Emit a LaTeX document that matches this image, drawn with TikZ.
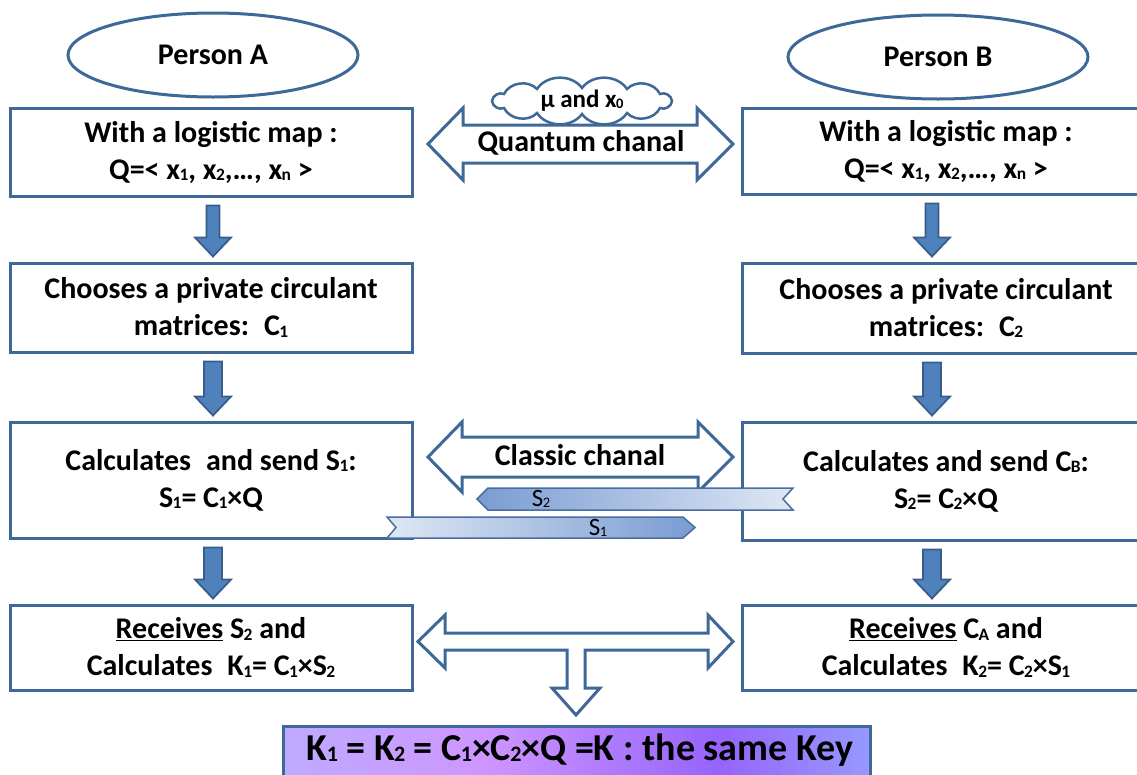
\documentclass[tikz,border=0pt]{standalone}
\usepackage{fontspec}
\setmainfont{Carlito}
\usetikzlibrary{calc,shapes.geometric}

\definecolor{edgeblue}{RGB}{62,104,152}
\definecolor{arrowfill}{RGB}{79,129,189}
\definecolor{arrowedge}{RGB}{56,93,138}
\definecolor{ribbondark}{RGB}{122,156,210}
\definecolor{ribbonlight}{RGB}{222,231,244}
\definecolor{ribbonedge}{RGB}{74,108,158}
\definecolor{kA}{RGB}{200,205,250}
\definecolor{kB}{RGB}{150,200,255}
\definecolor{kC}{RGB}{190,170,255}
\definecolor{kD}{RGB}{205,150,255}
\definecolor{kE}{RGB}{150,100,250}
\definecolor{kF}{RGB}{150,190,255}
\pgfdeclarehorizontalshading{keyshade}{100bp}{color(0bp)=(kA); color(12bp)=(kB); color(25bp)=(kC); color(42bp)=(kD); color(62bp)=(kE); color(84bp)=(kF); color(100bp)=(kA)}

% small index set low, close to the baseline
\newcommand\lo[1]{\kern-0.02em\raisebox{-0.04em}{\scalebox{0.58}{#1}}}

\tikzset{
  txt/.style={font=\fontsize{30}{37}\selectfont\bfseries, align=center},
  stagebox/.style={draw=edgeblue, line width=3, fill=white, minimum width=402, inner sep=0},
  person/.style={ellipse, draw=edgeblue, line width=3, fill=white, inner sep=0,
                 font=\fontsize{30}{37}\selectfont\bfseries},
  downarrow/.style={fill=arrowfill, draw=arrowedge, line width=1.8, line join=miter},
  blockarrow/.style={fill=white, draw=edgeblue, line width=3, line join=miter},
  ribbon/.style={draw=ribbonedge, line width=1.5, line join=miter},
  ribbontxt/.style={font=\fontsize{25}{26}\selectfont},
  puff/.style={bend left=55},
}

% fat downward arrow between two stacked boxes: from, to, x offset, shaft half-width
\newcommand\fatdown[4]{%
  \draw[downarrow] ($(#1.south)+(#3-#4,8)$) -- ($(#1.south)+(#3+#4,8)$)
    -- ($(#2.north)+(#3+#4,-24)$) -- ($(#2.north)+(#3+18,-24)$)
    -- ($(#2.north)+(#3,-5)$) -- ($(#2.north)+(#3-18,-24)$)
    -- ($(#2.north)+(#3-#4,-24)$) -- cycle;}

\begin{document}
\begin{tikzpicture}[x=1pt,y=-1pt]
\useasboundingbox (0,0) rectangle (1137,774);
\clip (0,0) rectangle (1137,774);

% the two parties
\node[person, minimum width=290, minimum height=84] (pa) at (213,55) {Person A};
\node[person, minimum width=300, minimum height=84] (pb) at (938,57) {Person B};

% left column
\node[stagebox, minimum height=88] (a1) at (211,152) {};
\node[txt] at (a1) {With a logistic map :\\Q=< x\lo{1}, x\lo{2},…, x\lo{n} >};
\node[stagebox, minimum height=89] (a2) at (211,307.5) {};
\node[txt] at (a2) {Chooses a private circulant\\matrices:\enspace C\lo{1}};
\node[stagebox, minimum height=116] (a3) at (211,480) {};
\node[txt] at (a3) {Calculates\enspace and send S\lo{1}:\\S\lo{1}= C\lo{1}×Q};
\node[stagebox, minimum height=85] (a4) at (211,647.5) {};
\node[txt] at (a4) {\underline{Receives} S\lo{2} and\\Calculates\enspace K\lo{1}= C\lo{1}×S\lo{2}};

% right column
\node[stagebox, minimum width=408, minimum height=86] (b1) at (946,151) {};
\node[txt] at (b1) {With a logistic map :\\Q=< x\lo{1}, x\lo{2},…, x\lo{n} >};
\node[stagebox, minimum width=408, minimum height=90] (b2) at (946,308) {};
\node[txt] at (b2) {Chooses a private circulant\\matrices:\enspace C\lo{2}};
\node[stagebox, minimum width=408, minimum height=118] (b3) at (946,481) {};
\node[txt] at (b3) {Calculates and send C\lo{B}:\\S\lo{2}= C\lo{2}×Q};
\node[stagebox, minimum width=408, minimum height=85] (b4) at (946,647.5) {};
\node[txt] at (b4) {\underline{Receives} C\lo{A} and\\Calculates\enspace K\lo{2}= C\lo{2}×S\lo{1}};

% steps inside each column
\fatdown{a1}{a2}{2}{6.5}
\fatdown{a2}{a3}{2}{9}
\fatdown{a3}{a4}{2}{9}
\fatdown{b1}{b2}{-14}{6.5}
\fatdown{b2}{b3}{-14}{9}
\fatdown{b3}{b4}{-14}{9}

% quantum channel
\draw[blockarrow] (428,144) -- (463,108) -- (463,125) -- (697,125) -- (697,108)
  -- (733,144) -- (697,180) -- (697,163) -- (463,163) -- (463,180) -- cycle;
\node[txt] (qc) at (581,143) {Quantum chanal};

% cloud carrying the shared parameters: puffs strung round an ellipse
\coordinate (mu) at (582,101);
\draw[edgeblue, line width=2.5, fill=white]
  ($(mu)+(-90,0)$) to[puff] ($(mu)+(-78,-7)$) to[puff] ($(mu)+(-45,-12)$)
  to[puff] ($(mu)+(0,-13)$) to[puff] ($(mu)+(45,-12)$) to[puff] ($(mu)+(78,-7)$)
  to[puff] ($(mu)+(90,0)$) to[puff] ($(mu)+(78,7)$) to[puff] ($(mu)+(45,12)$)
  to[puff] ($(mu)+(0,13)$) to[puff] ($(mu)+(-45,12)$) to[puff] ($(mu)+(-78,7)$)
  to[puff] cycle;
\node[font=\fontsize{25}{27}\selectfont\bfseries] at (mu) {μ and x\lo{0}};

% classic channel
\draw[blockarrow] (428,457) -- (462,422) -- (462,437) -- (698,437) -- (698,422)
  -- (733,457) -- (698,492) -- (698,477) -- (462,477) -- (462,492) -- cycle;
\node[txt] (cc) at (580,455) {Classic chanal};

% exchanged values
\draw[ribbon, left color=ribbondark, right color=ribbonlight]
  (477,499) -- (488,488) -- (793,488) -- (783,499) -- (793,510) -- (488,510) -- cycle;
\node[ribbontxt] (s2) at (541,499) {S\lo{2}};
\draw[ribbon, left color=ribbonlight, right color=ribbondark]
  (387,517) -- (683,517) -- (695,527.5) -- (683,538) -- (387,538) -- (396,527.5) -- cycle;
\node[ribbontxt] (s1) at (598,527.5) {S\lo{1}};

% both keys lead to the shared key
\draw[blockarrow] (418,641.5) -- (445,615) -- (445,633) -- (708,633) -- (708,615)
  -- (733,641.5) -- (708,668) -- (708,650) -- (585,650) -- (585,688) -- (600,688)
  -- (576,715) -- (552,688) -- (567,688) -- (567,650) -- (445,650) -- (445,668) -- cycle;

\node[draw=edgeblue, line width=3, shading=keyshade, minimum width=587, minimum height=54,
      inner sep=0] (key) at (576.5,753) {};
\node[font=\fontsize{38}{42}\selectfont\bfseries] at (580,750)
  {K\lo{1} = K\lo{2} = C\lo{1}×C\lo{2}×Q =K : the same Key};
\end{tikzpicture}
\end{document}
